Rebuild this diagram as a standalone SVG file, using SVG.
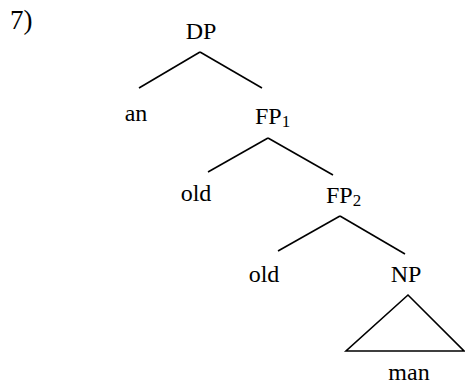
<svg xmlns="http://www.w3.org/2000/svg" width="465" height="385" viewBox="0 0 465 385">
<style>
text{font-family:"Liberation Serif","Times New Roman",serif;font-size:24px;fill:#000}
.m{text-anchor:middle}
.sub{font-size:17px}
line,polygon{stroke:#000;stroke-width:1.6;fill:none}
</style>
<rect width="465" height="385" fill="#fff"/>
<text x="10" y="29" style="font-size:27px">7)</text>
<g id="connectors">
<line x1="200" y1="52" x2="139" y2="88"/>
<line x1="200" y1="52" x2="262" y2="88"/>
<line x1="268" y1="138" x2="208" y2="172"/>
<line x1="268" y1="138" x2="333" y2="175"/>
<line x1="340" y1="216" x2="278" y2="251"/>
<line x1="340" y1="216" x2="405" y2="254"/>
</g>
<g id="DP"><text class="m" x="201" y="39">DP</text></g>
<g id="an"><text class="m" x="136" y="121">an</text></g>
<g id="FP1"><text x="255" y="124">FP<tspan class="sub" dy="3">1</tspan></text></g>
<g id="old1"><text class="m" x="196" y="201">old</text></g>
<g id="FP2"><text x="326" y="203">FP<tspan class="sub" dy="3">2</tspan></text></g>
<g id="old2"><text class="m" x="264" y="282">old</text></g>
<g id="NP"><text class="m" x="406" y="282">NP</text></g>
<g id="triangle"><polygon points="408,295 346,351 464,351"/></g>
<g id="man"><text class="m" x="409" y="380">man</text></g>
</svg>
